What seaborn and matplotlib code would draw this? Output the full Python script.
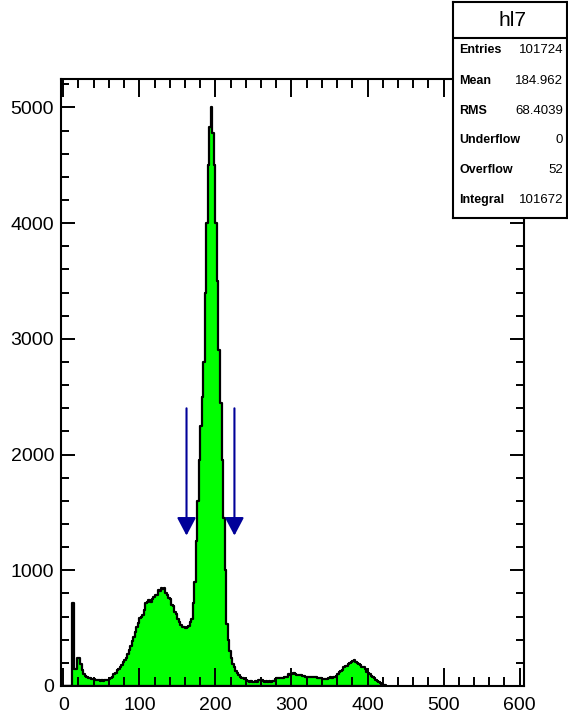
import numpy as np
import pandas as pd
import matplotlib
matplotlib.use("Agg")
import matplotlib.pyplot as plt
from matplotlib.ticker import MultipleLocator
from matplotlib.patches import ArrowStyle
import seaborn as sns

# Histogram hl7: bin contents, 2-unit bins starting at 0
bin_start = 0
bin_width = 2
counts = [
    0, 0, 0, 0, 0, 0, 715, 147, 147, 242,          # 0-18
    242, 190, 138, 100, 86, 76, 69, 65, 60, 60,    # 20-38
    57, 50, 48, 52, 47, 50, 46, 50, 48, 52,        # 40-58
    62, 69, 80, 100, 115, 135, 150, 165, 185, 205, # 60-78
    225, 242, 280, 315, 350, 385, 420, 470, 512, 545,  # 80-98
    587, 600, 613, 660, 717, 730, 743, 729, 750, 772,  # 100-118
    786, 790, 830, 825, 847, 840, 847, 804, 790, 760,  # 120-138
    755, 700, 690, 640, 620, 580, 556, 530, 512, 510,  # 140-158
    505, 512, 515, 556, 580, 717, 900, 1250, 1600, 1950,  # 160-178
    2250, 2500, 2800, 3400, 4000, 4500, 4830, 5004, 4780, 4500,  # 180-198
    4000, 3500, 2900, 2450, 1950, 1450, 1000, 540, 400, 300,  # 200-218
    240, 190, 160, 130, 115, 95, 82, 72, 66, 60,   # 220-238
    50, 42, 38, 40, 36, 38, 40, 37, 52, 50,        # 240-258
    48, 42, 38, 40, 36, 40, 38, 42, 45, 62,        # 260-278
    66, 70, 68, 72, 70, 75, 80, 82, 100, 95,       # 280-298
    104, 110, 100, 98, 95, 92, 95, 90, 88, 80,     # 300-318
    78, 82, 80, 76, 78, 75, 80, 72, 68, 65,        # 320-338
    62, 60, 64, 62, 72, 75, 70, 76, 82, 90,        # 340-358
    100, 120, 130, 140, 160, 170, 175, 190, 196, 205,  # 360-378
    215, 225, 210, 195, 190, 180, 165, 160, 150, 125,  # 380-398
    110, 105, 85, 78, 72, 55, 45, 38, 25, 15,      # 400-418
    12, 8,                                         # 420-422
]

# Statistics panel
stat_title = "hl7"
stat_names = ["Entries", "Mean", "RMS", "Underflow", "Overflow", "Integral"]
stat_values = ["101724", "184.962", "68.4039", "0", "52", "101672"]

# Selection window marked by arrows
cut_positions = [162, 225]
arrow_top = 2400
arrow_tip = 1300

edges = [bin_start + bin_width * i for i in range(len(counts) + 1)]
centers = [0.5 * (a + b) for a, b in zip(edges[:-1], edges[1:])]
df = pd.DataFrame({"x": centers, "w": np.asarray(counts, dtype=float)})

sns.set_style("white")
plt.rcParams["font.family"] = ["Liberation Sans", "DejaVu Sans"]
plt.rcParams["text.color"] = "black"
plt.rcParams["xtick.color"] = "black"
plt.rcParams["ytick.color"] = "black"

W, H = 568, 718
fig = plt.figure(figsize=(W / 100, H / 100), dpi=100)
fig.patch.set_facecolor("white")

ax = fig.add_axes([61 / W, 1 - 686 / H, (523.5 - 61) / W, (686 - 79) / H])
sns.histplot(
    data=df, x="x", weights="w", bins=edges, element="step", fill=True,
    color="#00ff00", edgecolor="black", linewidth=1.6, alpha=1, ax=ax,
)
ax.set_xlim(-3, 605)
ax.set_ylim(0, 5246)
ax.set_xlabel("")
ax.set_ylabel("")
ax.set_axisbelow(False)

for sp in ax.spines.values():
    sp.set_visible(True)
    sp.set_linewidth(1.5)
    sp.set_color("black")

ax.xaxis.set_major_locator(MultipleLocator(100))
ax.xaxis.set_minor_locator(MultipleLocator(20))
ax.yaxis.set_major_locator(MultipleLocator(1000))
ax.yaxis.set_minor_locator(MultipleLocator(200))
ax.tick_params(which="both", direction="in", top=True, right=True,
               bottom=True, left=True, width=1.4, color="black",
               labelcolor="black", labelsize=14)
ax.tick_params(axis="x", which="major", length=12.7, pad=8)
ax.tick_params(axis="x", which="minor", length=6.5)
ax.tick_params(axis="y", which="major", length=10, pad=5)
ax.tick_params(axis="y", which="minor", length=5.5)

navy = "#000099"
style = ArrowStyle("-|>", head_length=1.1, head_width=0.58)
for xc in cut_positions:
    ax.annotate("", xy=(xc, arrow_tip), xytext=(xc, arrow_top),
                arrowprops=dict(arrowstyle=style, color=navy, lw=1.5,
                                shrinkA=0, shrinkB=0, mutation_scale=10))

# Statistics box drawn over the frame
bx = fig.add_axes([453 / W, 1 - 218 / H, 114 / W, 216 / H])
bx.set_xticks([])
bx.set_yticks([])
bx.set_facecolor("white")
for sp in bx.spines.values():
    sp.set_linewidth(1.5)
    sp.set_color("black")
bx.axhline((218 - 37.7) / 216, color="black", lw=1.5)

fig.text(513 / W, 1 - 20 / H, stat_title, ha="center", va="center", fontsize=15)
row_y = [50, 81, 111, 140, 170, 200]
for name, val, yy in zip(stat_names, stat_values, row_y):
    fig.text(459 / W, 1 - yy / H, name, ha="left", va="center",
             fontsize=9, fontweight="bold")
    fig.text(563 / W, 1 - yy / H, val, ha="right", va="center",
             fontsize=9.5)

fig.savefig("out.png", dpi=100)
